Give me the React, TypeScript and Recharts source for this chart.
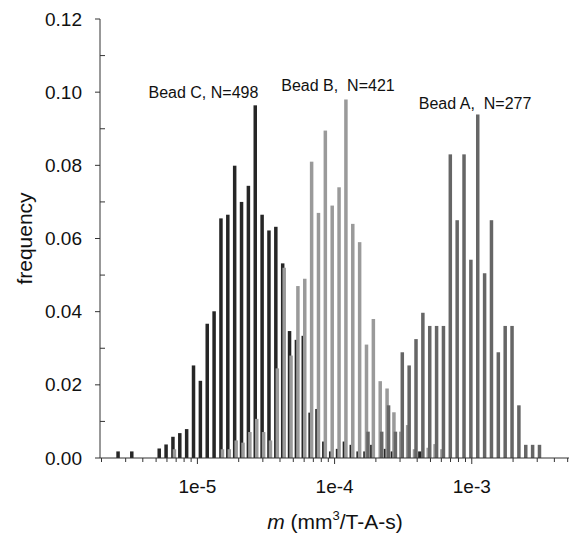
import React from 'react';
import { ComposedChart, Bar, XAxis, YAxis, ReferenceDot } from 'recharts';

// histogram bins: centre of first bin (log10 of m) and bin width in decades
const FIRST_BIN = -5.565;
const BIN_WIDTH = 0.05;

// frequency per bin, one entry per bin from the first bin on
const beadC = [
  0.0018, 0, 0.0018, 0, 0, 0, 0.0026, 0.0037, 0.0058, 0.0068, 0.0079,
  0.0253, 0.0211, 0.0367, 0.0401, 0.0655, 0.0665, 0.0799, 0.07, 0.0744, 0.0964,
  0.0665, 0.0622, 0.0632, 0.0532, 0.0347, 0.0323, 0.0334, 0.0124, 0.0134,
  0.0045, 0.0018, 0.0025, 0.0045, 0.0036, 0.0018, 0.0018, 0.0036, 0, 0.0025,
  0.0018, 0, 0, 0, 0.0018,
  0, 0, 0, 0, 0, 0, 0, 0, 0, 0, 0, 0, 0, 0, 0, 0, 0,
];

const beadB = [
  0, 0, 0, 0, 0, 0, 0, 0, 0.0024, 0, 0, 0, 0, 0, 0,
  0.0024, 0.0024, 0.0048, 0.0042, 0.0071, 0.0107, 0.0071, 0.0048,
  0.0245, 0.052, 0.028, 0.047, 0.049, 0.081, 0.067, 0.0895, 0.069, 0.074,
  0.098, 0.064, 0.059, 0.031, 0.038, 0.021, 0.019, 0.0125, 0.0072, 0.009,
  0.0024, 0, 0.0028, 0.0038, 0.0024,
  0, 0, 0, 0, 0, 0, 0, 0, 0, 0, 0, 0, 0, 0,
];

const beadA = [
  0, 0, 0, 0, 0, 0, 0, 0, 0, 0, 0, 0, 0, 0, 0, 0, 0, 0,
  0, 0, 0, 0, 0, 0, 0, 0, 0, 0, 0, 0, 0, 0, 0, 0, 0, 0,
  0.0072, 0, 0.0072, 0.0144, 0.0072,
  0.0289, 0.0253, 0.0325, 0.0397, 0.0361, 0.0361, 0.0361, 0.083, 0.065,
  0.083, 0.0542, 0.0939, 0.0505, 0.065, 0.0289, 0.0361, 0.0361, 0.0144,
  0.0036, 0.0036, 0.0036,
];

const majorExponents = [-5, -4, -3];
const yTicks = [0, 0.01, 0.02, 0.03, 0.04, 0.05, 0.06, 0.07, 0.08, 0.09, 0.1, 0.11, 0.12];

const labels = [
  { text: 'Bead C, N=498', x: -4.956, y: 0.1 },
  { text: 'Bead B,\u00a0 N=421', x: -3.975, y: 0.102 },
  { text: 'Bead A,\u00a0 N=277', x: -2.976, y: 0.097 },
];

const data = beadC.map((c, i) => ({
  x: FIRST_BIN + i * BIN_WIDTH,
  c,
  b: beadB[i],
  a: beadA[i],
}));

// minor ticks at 2..9 x 10^n inside the axis range
const xTicks: number[] = [];
for (let e = -6; e <= -3; e++) {
  for (let m = 1; m <= 9; m++) {
    const v = e + Math.log10(m);
    if (v >= -5.7 && v <= -2.29) xTicks.push(v);
  }
}

const AXIS = '#333';
const FONT = '"Liberation Sans", Arial, Helvetica, sans-serif';
const BAR_W = 3.5;

// keep the library's bar centre, but draw every bar at a fixed width
const HistBar = (p: any) => {
  if (!p.height) return null;
  return <rect x={p.x + p.width / 2 - BAR_W / 2} y={p.y} width={BAR_W} height={p.height} fill={p.fill} />;
};

const XTick = (props: any) => {
  const { x, y, payload } = props;
  const major = majorExponents.some((e) => Math.abs(e - payload.value) < 1e-6);
  return (
    <g>
      <line x1={x} x2={x} y1={y} y2={y + (major ? 6 : 4)} stroke={AXIS} />
      {major && (
        <text x={x} y={y + 35} textAnchor="middle" fontSize={19} fill="#111" fontFamily={FONT}>
          {`1e${Math.round(payload.value)}`}
        </text>
      )}
    </g>
  );
};

const YTick = (props: any) => {
  const { x, y, payload } = props;
  const major = Math.round(payload.value * 100) % 2 === 0;
  return (
    <g>
      {major ? (
        <line x1={x - 5} x2={x} y1={y} y2={y} stroke={AXIS} />
      ) : (
        <line x1={x} x2={x + 5} y1={y} y2={y} stroke={AXIS} />
      )}
      {major && (
        <text x={x - 18} y={y} dy="0.35em" textAnchor="end" fontSize={19} fill="#111" fontFamily={FONT}>
          {payload.value.toFixed(2)}
        </text>
      )}
    </g>
  );
};

export default function App() {
  return (
    <div style={{ width: 569, height: 527 }}>
      <ComposedChart
        width={569}
        height={527}
        data={data}
        margin={{ top: 11, right: 7, bottom: 0, left: 0 }}
        barGap={-1.7}
      >
        <XAxis
          dataKey="x"
          type="number"
          domain={[-5.71, -2.284]}
          ticks={xTicks}
          interval={0}
          allowDataOverflow
          tickSize={0}
          tickMargin={0}
          tickLine={false}
          tick={<XTick />}
          height={77}
          axisLine={{ stroke: AXIS }}
          label={{
            position: 'insideBottom',
            content: (p: any) => {
              const vb = p.viewBox;
              return (
                <text
                  x={vb.x + vb.width / 2}
                  y={vb.y + 71}
                  textAnchor="middle"
                  fontSize={21}
                  fill="#111"
                  fontFamily={FONT}
                >
                  <tspan fontStyle="italic">m</tspan>
                  <tspan> (mm</tspan>
                  <tspan fontSize={13} dy={-9}>3</tspan>
                  <tspan dy={9}>/T-A-s)</tspan>
                </text>
              );
            },
          }}
        />
        <YAxis
          type="number"
          domain={[0, 0.12]}
          ticks={yTicks}
          interval={0}
          width={92}
          tickSize={0}
          tickMargin={0}
          tickLine={false}
          tick={<YTick />}
          axisLine={{ stroke: AXIS }}
          label={{
            position: 'insideLeft',
            content: (p: any) => {
              const vb = p.viewBox;
              const cy = vb.y + vb.height / 2;
              return (
                <text
                  x={17}
                  y={cy}
                  transform={`rotate(-90 17 ${cy})`}
                  textAnchor="middle"
                  dy="0.35em"
                  fontSize={21}
                  fill="#111"
                  fontFamily={FONT}
                >
                  frequency
                </text>
              );
            },
          }}
        />
        <Bar dataKey="c" fill="#262626" barSize={3.2} shape={<HistBar />} isAnimationActive={false} />
        <Bar dataKey="b" fill="#9a9a9a" barSize={3.2} shape={<HistBar />} isAnimationActive={false} />
        <Bar dataKey="a" fill="#666666" barSize={3.2} shape={<HistBar />} isAnimationActive={false} />
        {labels.map((l) => (
          <ReferenceDot
            key={l.text}
            x={l.x}
            y={l.y}
            r={0}
            fill="none"
            stroke="none"
            label={{
              value: l.text,
              position: 'center',
              fontSize: 16,
              fill: '#111',
              fontFamily: FONT,
              style: { whiteSpace: 'pre' },
            }}
          />
        ))}
      </ComposedChart>
    </div>
  );
}
